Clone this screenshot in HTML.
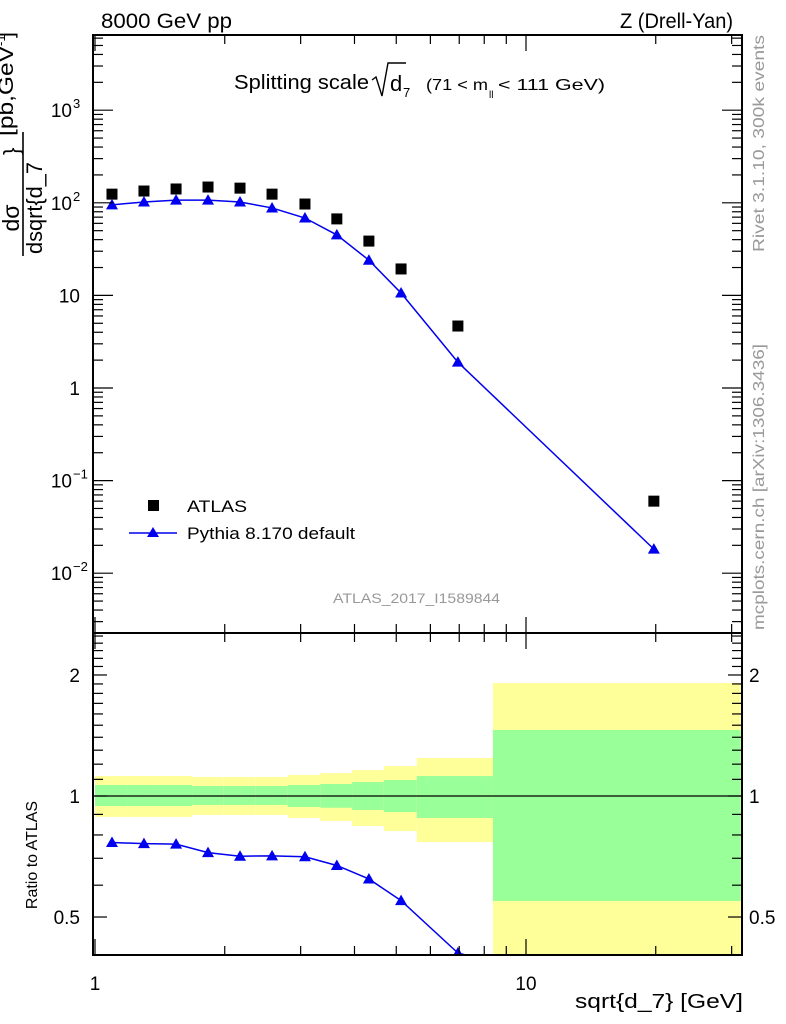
<!DOCTYPE html>
<html><head><meta charset="utf-8"><style>
body{margin:0;background:#fff}
svg{display:block;font-family:"Liberation Sans",sans-serif}
</style></head><body>
<svg id="c" width="786" height="1024" viewBox="0 0 786 1024"></svg>
<script>
const xs=[1.095,1.299,1.542,1.829,2.17,2.575,3.07,3.64,4.32,5.13,6.95,19.8];
const atlas=[124,134,141,148,144,124,97,67,38.6,19.3,4.67,0.060];
const pythia=[95,102,107,107,102,88,68.5,45,24,10.6,1.9,0.0182];
const binEdges=[1,1.19,1.415,1.68,1.99,2.36,2.8,3.33,3.95,4.68,5.58,8.38,31.5];
const totUp=[1.121,1.121,1.121,1.115,1.115,1.115,1.128,1.14,1.16,1.187,1.243,1.91];
const totDn=[0.887,0.887,0.887,0.897,0.897,0.897,0.882,0.867,0.842,0.818,0.768,0.3];
const statUp=[1.065,1.065,1.065,1.059,1.059,1.059,1.065,1.071,1.083,1.096,1.121,1.46];
const statDn=[0.944,0.944,0.944,0.95,0.95,0.95,0.939,0.935,0.923,0.912,0.882,0.548];
const mainTicks=[[1000,"10","3"],[100,"10","2"],[10,"10",""],[1,"1",""],[0.1,"10","−1"],[0.01,"10","−2"]];
const ratioTicks=[[2,"2"],[1,"1"],[0.5,"0.5"]];
const xTicks=[[1,"1"],[10,"10"]];

const L=93,R=742,T=35,MB=633,B=955;
const X=v=>95+431*Math.log10(v);
const Y=v=>388-92.6*Math.log10(v);
const RY=v=>796-402*Math.log10(v);
const svg=document.getElementById('c');
const NS="http://www.w3.org/2000/svg";
function mk(tag,attrs,parent,txt){const e=document.createElementNS(NS,tag);for(const k in attrs)e.setAttribute(k,attrs[k]);if(txt!==undefined)e.textContent=txt;(parent||svg).appendChild(e);return e;}

const defs=mk('defs',{});
const cp=mk('clipPath',{id:'rc'},defs);mk('rect',{x:L,y:MB,width:R-L,height:B-MB},cp);
const cp2=mk('clipPath',{id:'mc'},defs);mk('rect',{x:L,y:T,width:R-L,height:MB-T},cp2);

const bands=mk('g',{'clip-path':'url(#rc)'});


for(let i=0;i<12;i++){
  const x0=X(binEdges[i]),x1=X(binEdges[i+1]);
  const y=mk('rect',{x:x0,y:RY(totUp[i]),width:x1-x0,height:RY(totDn[i])-RY(totUp[i]),fill:'#ffff99'},bands);
  
  
  const g=mk('rect',{x:x0,y:RY(statUp[i]),width:x1-x0,height:RY(statDn[i])-RY(statUp[i]),fill:'#99ff99'},bands);
  
  
}
mk('line',{x1:L,x2:R,y1:RY(1),y2:RY(1),stroke:'#000','stroke-width':1.3});

const mg=mk('g',{'clip-path':'url(#mc)'});
let pts=xs.map((x,i)=>X(x)+','+Y(pythia[i])).join(' ');
mk('polyline',{points:pts,fill:'none',stroke:'#0000ee','stroke-width':1.5},mg);
function tri(cx,cy,p){const t=mk('polygon',{points:`${cx},${cy-6} ${cx-6},${cy+4.5} ${cx+6},${cy+4.5}`,fill:'#0000ee'},p);return t;}
xs.forEach((x,i)=>{
  const s=mk('rect',{x:X(x)-5.5,y:Y(atlas[i])-5.5,width:11,height:11,fill:'#000'},mg);
  
  
  const t=tri(X(x),Y(pythia[i]),mg);
  
  
});
const rg=mk('g',{'clip-path':'url(#rc)'});
const ratio=pythia.map((p,i)=>p/atlas[i]);
mk('polyline',{points:xs.map((x,i)=>X(x)+','+RY(ratio[i])).join(' '),fill:'none',stroke:'#0000ee','stroke-width':1.5},rg);
xs.forEach((x,i)=>{const t=tri(X(x),RY(ratio[i]),rg);
  
  });

mk('rect',{x:L,y:T,width:R-L,height:MB-T,fill:'none',stroke:'#000','stroke-width':2});
mk('rect',{x:L,y:MB,width:R-L,height:B-MB,fill:'none',stroke:'#000','stroke-width':2});

for(let d=1;d<=30;d*=10)for(let k=1;k<10;k++){const v=d*k;if(v>31.5)break;const x=X(v);const big=k==1;
  const h=big?16:9;
  for(const [y0,dir] of [[T,1],[MB,-1],[MB,1],[B,-1]]) mk('line',{x1:x,x2:x,y1:y0,y2:y0+dir*h,stroke:'#000','stroke-width':1.2});}
xTicks.forEach(([v,l])=>{const t=mk('text',{x:X(v),y:990,'font-size':19,'text-anchor':'middle'},svg,l);
  });
for(let e=-3;e<=3;e++)for(let k=1;k<10;k++){const v=k*Math.pow(10,e);const y=Y(v);if(y<T||y>MB)continue;const h=k==1?20:10;
  mk('line',{x1:L,x2:L+h,y1:y,y2:y,stroke:'#000','stroke-width':1.2});mk('line',{x1:R,x2:R-h,y1:y,y2:y,stroke:'#000','stroke-width':1.2});}
mainTicks.forEach(([v,b,s])=>{const y=Y(v)+7;
  const t=mk('text',{x:s?72:80,y:y,'font-size':19,'text-anchor':'end'},svg,b);
  
  if(s)mk('text',{x:73,y:y-9,'font-size':13},svg,s);});
[0.5,0.6,0.7,0.8,0.9,1,1.1,1.2,1.3,1.4,1.5,1.6,1.7,1.8,1.9,2,2.1,2.2,2.3,2.4,2.5].forEach(v=>{const y=RY(v);if(y<MB||y>B)return;
  const big=[0.5,1,2].includes(v);const h=big?14:10;
  mk('line',{x1:L,x2:L+h,y1:y,y2:y,stroke:'#000','stroke-width':1.2});mk('line',{x1:R,x2:R-h,y1:y,y2:y,stroke:'#000','stroke-width':1.2});});
ratioTicks.forEach(([v,l])=>{const y=RY(v)+7;
  const a=mk('text',{x:80,y:y,'font-size':19,'text-anchor':'end'},svg,l);
  
  const b=mk('text',{x:749,y:y,'font-size':19},svg,l);
  });
</script>
<div style="position:absolute;left:0;top:0;width:786px;height:1024px;pointer-events:none">
<svg width="786" height="1024" style="position:absolute;left:0;top:0;font-family:'Liberation Sans',sans-serif">
<text x="101" y="28" font-size="21" textLength="131" lengthAdjust="spacingAndGlyphs">8000 GeV pp</text>
<text x="620" y="28" font-size="21" textLength="113" lengthAdjust="spacingAndGlyphs">Z (Drell-Yan)</text>
<g>
<text x="234" y="89" font-size="20" textLength="135" lengthAdjust="spacingAndGlyphs">Splitting scale</text>
<path d="M372 80 L376 77 L382 96 L388 63 L406 63" fill="none" stroke="#000" stroke-width="1.4"/>
<text x="390" y="91" font-size="22">d</text><text x="403" y="97" font-size="13">7</text>
<text x="426" y="90" font-size="16" textLength="62" lengthAdjust="spacingAndGlyphs">(71 &lt; m</text><text x="489" y="98" font-size="10">ll</text><text x="498" y="90" font-size="16" textLength="107" lengthAdjust="spacingAndGlyphs">&lt; 111 GeV)</text>
</g>
<g>
<text transform="translate(19,218) rotate(-90)" font-size="23" text-anchor="middle">dσ</text>
<line x1="23" x2="23" y1="256" y2="132" stroke="#000" stroke-width="1.6"/>
<text transform="translate(42,254) rotate(-90)" font-size="22" textLength="92" lengthAdjust="spacingAndGlyphs">dsqrt{d_7</text>
<text transform="translate(19,155) rotate(-90)" font-size="22">}</text>
<text transform="translate(13,136) rotate(-90)" font-size="21" textLength="90" lengthAdjust="spacingAndGlyphs">[pb,GeV</text>
<text transform="translate(5,46) rotate(-90)" font-size="13">-1</text>
<text transform="translate(13,38) rotate(-90)" font-size="21">]</text>
</g>
<text transform="translate(37,855) rotate(-90)" font-size="16" text-anchor="middle">Ratio to ATLAS</text>
<text x="575" y="1008" font-size="20" textLength="168" lengthAdjust="spacingAndGlyphs">sqrt{d_7} [GeV]</text>
<g>
<rect x="148" y="500" width="11" height="11" fill="#000"/>
<text x="187" y="512" font-size="17" textLength="60" lengthAdjust="spacingAndGlyphs">ATLAS</text>
<line x1="129" x2="177" y1="533" y2="533" stroke="#0000ee" stroke-width="1.5"/>
<polygon points="153,527 147,537 159,537" fill="#0000ee"/>
<text x="187" y="539" font-size="17" textLength="168" lengthAdjust="spacingAndGlyphs">Pythia 8.170 default</text>
</g>
<text x="333" y="603" font-size="14" fill="#999" textLength="167" lengthAdjust="spacingAndGlyphs">ATLAS_2017_I1589844</text>
<text transform="translate(764,252) rotate(-90)" font-size="16" fill="#999" textLength="217" lengthAdjust="spacingAndGlyphs">Rivet 3.1.10,  300k events</text>
<text transform="translate(764,630) rotate(-90)" font-size="16" fill="#999" textLength="286" lengthAdjust="spacingAndGlyphs">mcplots.cern.ch [arXiv:1306.3436]</text>
</svg></div>
</body></html>
